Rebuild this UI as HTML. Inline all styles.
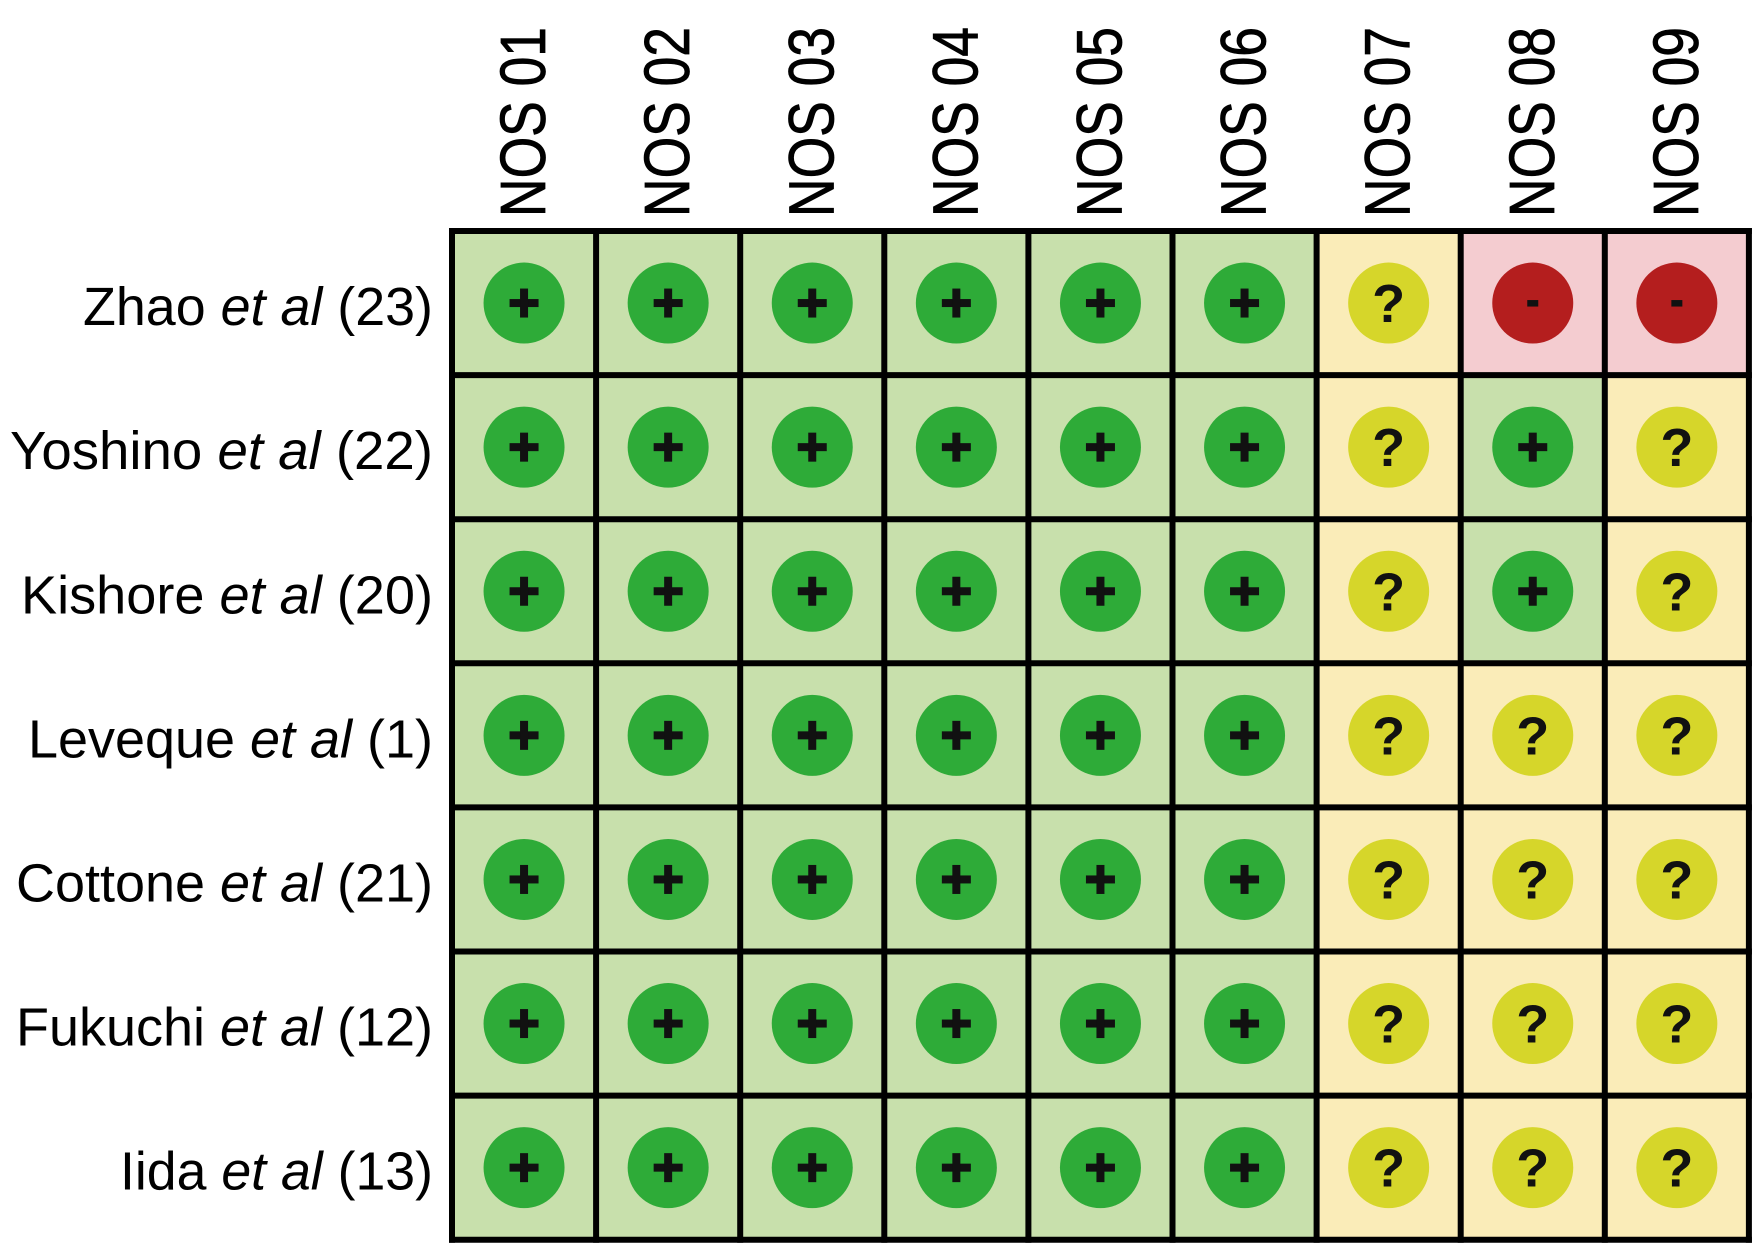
<!DOCTYPE html>
<html><head><meta charset="utf-8"><style>html,body{margin:0;padding:0;background:#fff}</style></head>
<body>
<svg width="1760" height="1253" xmlns="http://www.w3.org/2000/svg" font-family="Liberation Sans, Arial, sans-serif">
<g id="g"></g>
</svg>
<script>
const g=document.getElementById('g');
const x0=452,y0=231,p=144.1;
const rows=[["Zhao","(23)",350],["Yoshino","(22)",423],["Kishore","(20)",412],["Leveque","(1)",405],["Cottone","(21)",417],["Fukuchi","(12)",417],["Iida","(13)",313]];
const grid=[
"pppppp?--","pppppp?p?","pppppp?p?","pppppp???","pppppp???","pppppp???","pppppp???"];
const st={p:["#c8e0ac","#2eab38","+"],"?":["#faecb8","#d6d62a","?"],"-":["#f4ccd0","#b41e1e","-"]};
let s="";
for(let r=0;r<7;r++)for(let c=0;c<9;c++){
 const t=st[grid[r][c]];const x=x0+c*p,y=y0+r*p,cx=x+p/2,cy=y+p/2;
 s+=`<rect x="${x}" y="${y}" width="${p}" height="${p}" fill="${t[0]}"/>`;
 s+=`<circle cx="${cx}" cy="${cy}" r="40.5" fill="${t[1]}"/>`;
 if(t[2]=="+")s+=`<rect x="${cx-14.5}" y="${cy-4}" width="29" height="8" fill="#111"/><rect x="${cx-4}" y="${cy-14.5}" width="8" height="29" fill="#111"/>`;
 else if(t[2]=="-")s+=`<rect x="${cx-5.5}" y="${cy-3}" width="11" height="6.5" fill="#111"/>`;
 else s+=`<text x="${cx}" y="${cy+19}" text-anchor="middle" font-size="54" font-weight="bold" fill="#111">?</text>`;
}
for(let k=0;k<=9;k++)s+=`<line x1="${x0+k*p}" y1="${y0-3}" x2="${x0+k*p}" y2="${y0+7*p+3}" stroke="#000" stroke-width="6"/>`;
for(let k=0;k<=7;k++)s+=`<line x1="${x0-3}" y1="${y0+k*p}" x2="${x0+9*p+3}" y2="${y0+k*p}" stroke="#000" stroke-width="6"/>`;
for(let c=0;c<9;c++){const cx=x0+c*p+p/2+21;
 s+=`<text transform="translate(${cx},217) rotate(-90)" font-size="64" textLength="190" lengthAdjust="spacingAndGlyphs" fill="#000" stroke="#000" stroke-width="0.8">NOS 0${c+1}</text>`;}
for(let r=0;r<7;r++){const cy=y0+r*p+p/2+22;const R=rows[r];
 s+=`<text x="433" y="${cy}" text-anchor="end" font-size="54" textLength="${R[2]}" lengthAdjust="spacingAndGlyphs" fill="#000">${R[0]} <tspan font-style="italic">et al</tspan> ${R[1]}</text>`;}
g.innerHTML=s;
</script>
</body></html>
